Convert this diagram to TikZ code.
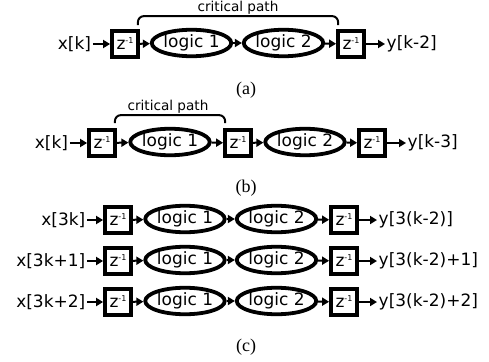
\documentclass[tikz,border=0pt]{standalone}
\usepackage{fontspec}
\setmainfont{DejaVu Sans}
\newfontfamily\capfont{Liberation Serif}
\usetikzlibrary{arrows.meta,shapes.geometric}
\begin{document}
\begin{tikzpicture}[x=1pt,y=-1pt,
  txt/.style={font=\fontsize{17}{20}\selectfont},
  reg/.style={txt,draw,line width=3.8pt,minimum size=26pt,inner sep=0pt},
  logic/.style={txt,draw,ellipse,line width=3.8pt,minimum width=69.5pt,minimum height=26.5pt,inner sep=0pt},
  lbl/.style={txt,inner sep=1.5pt},
  conn/.style={line width=2pt,-{Triangle[length=7pt,width=8pt]}},
  brace/.style={line width=2pt,rounded corners=6pt},
  crit/.style={font=\fontsize{13.6}{15}\selectfont,inner sep=0pt},
  captext/.style={font=\capfont\fontsize{18}{20}\selectfont}]
\useasboundingbox (0,0) rectangle (489,361);
\newcommand{\zinv}{z\raisebox{6pt}{\fontsize{8}{8}\selectfont -1}}
% (a)
\node[lbl] (ax) at (74.5,44) {x[k]};
\node[reg] (a1) at (125,44) {\zinv};
\node[logic] (a2) at (191.5,43) {logic 1};
\node[logic] (a3) at (283.5,43) {logic 2};
\node[reg] (a4) at (351,44) {\zinv};
\node[lbl,anchor=west] (ay) at (385,44) {y[k-2]};
\draw[conn] (ax) -- (a1);
\draw[conn] (a1) -- (a2);
\draw[conn] (a2) -- (a3);
\draw[conn] (a3) -- (a4);
\draw[conn] (a4) -- (ay);
\draw[brace] ([xshift=-2pt,yshift=4pt]a1.north east) -- ([xshift=-2pt,yshift=13pt]a1.north east) -- ([xshift=2pt,yshift=13pt]a4.north west) -- ([xshift=2pt,yshift=4pt]a4.north west);
\node[crit] (acp) at (238,8) {critical path};
\node[captext] (acap) at (246,90) {(a)};
% (b)
\node[lbl] (bx) at (51.5,143) {x[k]};
\node[reg] (b1) at (102,143) {\zinv};
\node[logic] (b2) at (170,142) {logic 1};
\node[reg] (b3) at (238,143) {\zinv};
\node[logic] (b4) at (305,142) {logic 2};
\node[reg] (b5) at (372,143) {\zinv};
\node[lbl,anchor=west] (by) at (406,143) {y[k-3]};
\draw[conn] (bx) -- (b1);
\draw[conn] (b1) -- (b2);
\draw[conn] (b2) -- (b3);
\draw[conn] (b3) -- (b4);
\draw[conn] (b4) -- (b5);
\draw[conn] (b5) -- (by);
\draw[brace] ([xshift=-2pt,yshift=5pt]b1.north east) -- ([xshift=-2pt,yshift=13pt]b1.north east) -- ([xshift=2pt,yshift=13pt]b3.north west) -- ([xshift=2pt,yshift=5pt]b3.north west);
\node[crit] (bcp) at (168,107) {critical path};
\node[captext] (bcap) at (246,188) {(b)};
% (c)
\foreach \r/\yy/\xin/\yout in {1/220/{x[3k]}/{y[3(k-2)]},2/261/{x[3k+1]}/{y[3(k-2)+1]},3/302/{x[3k+2]}/{y[3(k-2)+2]}}{
  \node[lbl,anchor=east] (cx\r) at (87,\yy) {\xin};
  \node[reg] (c1\r) at (118,\yy) {\zinv};
  \node[logic] (c2\r) at (185,\yy-1) {logic 1};
  \node[logic] (c3\r) at (276.5,\yy-1) {logic 2};
  \node[reg] (c4\r) at (344,\yy) {\zinv};
  \node[lbl,anchor=west] (cy\r) at (377,\yy) {\yout};
  \draw[conn] (cx\r) -- (c1\r);
  \draw[conn] (c1\r) -- (c2\r);
  \draw[conn] (c2\r) -- (c3\r);
  \draw[conn] (c3\r) -- (c4\r);
  \draw[conn] (c4\r) -- (cy\r);
}
\node[captext] (ccap) at (246,347) {(c)};
\end{tikzpicture}
\end{document}
